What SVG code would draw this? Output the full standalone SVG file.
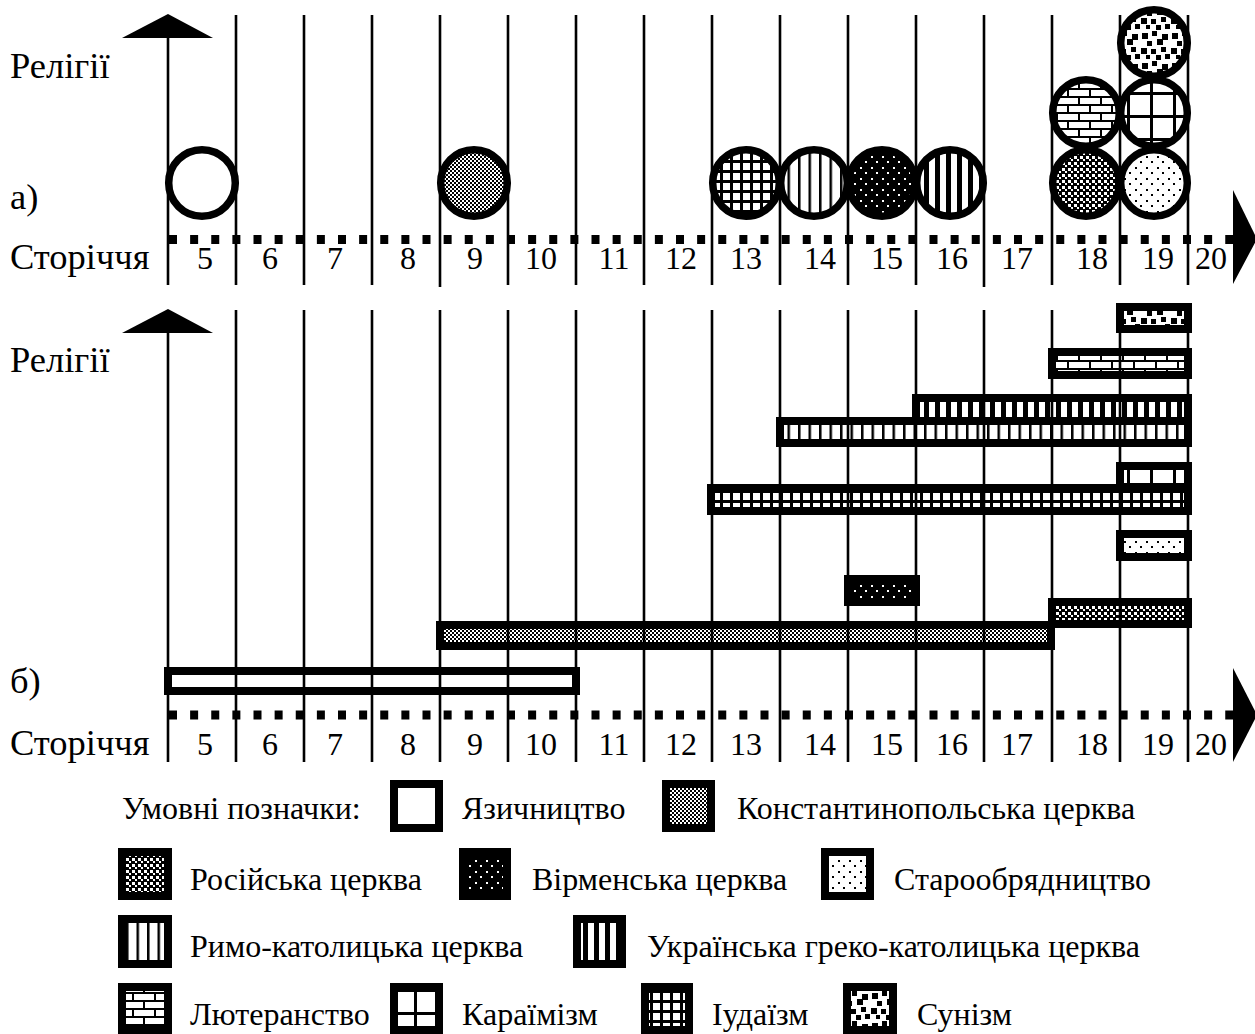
<svg xmlns="http://www.w3.org/2000/svg" width="1255" height="1034" viewBox="0 0 1255 1034" font-family="'Liberation Serif', 'Times New Roman', serif">
<style>
.grid{stroke:#000;stroke-width:2.6;fill:none}
.dots{stroke:#000;stroke-width:9;stroke-dasharray:8 13.125;fill:none}
.bar{stroke:#000;stroke-width:8}
.circ{stroke:#000;stroke-width:7.5}
.box{stroke:#000;stroke-width:8}
.lbl{font-size:36.5px}
.num{font-size:32px;text-anchor:middle}
.leg{font-size:32px}
</style>
<defs>
<pattern id="pConst" width="4" height="4" patternUnits="userSpaceOnUse"><rect width="4" height="4" fill="#fff"/><rect width="2" height="2" fill="#000"/><rect x="2" y="2" width="2" height="2" fill="#000"/></pattern>
<pattern id="pRus" width="6" height="6" patternUnits="userSpaceOnUse"><rect width="6" height="6" fill="#000"/><rect width="3" height="3" fill="#fff"/><rect x="3" y="3" width="2" height="2" fill="#fff"/></pattern>
<pattern id="pArm" width="11" height="11" patternUnits="userSpaceOnUse"><rect width="11" height="11" fill="#000"/><rect x="2" y="2" width="2" height="2" fill="#fff"/><rect x="7" y="7" width="2" height="2" fill="#fff"/></pattern>
<pattern id="pOld" width="11" height="11" patternUnits="userSpaceOnUse"><rect width="11" height="11" fill="#fff"/><rect x="2" y="2" width="2" height="2" fill="#000"/><rect x="7" y="7" width="2" height="2" fill="#000"/></pattern>
<pattern id="pRom" width="10.5" height="10" patternUnits="userSpaceOnUse"><rect width="10.5" height="10" fill="#fff"/><rect width="2.5" height="10" fill="#000"/></pattern>
<pattern id="pUgcc" width="11" height="10" patternUnits="userSpaceOnUse"><rect width="11" height="10" fill="#fff"/><rect width="5" height="10" fill="#000"/></pattern>
<pattern id="pJud" width="10" height="10" patternUnits="userSpaceOnUse"><rect width="10" height="10" fill="#fff"/><rect width="3" height="10" fill="#000"/><rect width="10" height="3" fill="#000"/></pattern>
<pattern id="pKar" width="23" height="23" patternUnits="userSpaceOnUse"><rect width="23" height="23" fill="#fff"/><rect width="3" height="23" fill="#000"/><rect width="23" height="3" fill="#000"/></pattern>
<pattern id="pLuth" width="22" height="16" patternUnits="userSpaceOnUse"><rect width="22" height="16" fill="#fff"/><rect width="22" height="2" fill="#000"/><rect y="8" width="22" height="2" fill="#000"/><rect x="0" y="0" width="2" height="8" fill="#000"/><rect x="11" y="8" width="2" height="8" fill="#000"/></pattern>
<pattern id="pSun" width="30" height="30" patternUnits="userSpaceOnUse"><rect width="30" height="30" fill="#fff"/><g fill="#000"><rect x="2" y="3" width="6" height="6"/><rect x="12" y="1" width="5" height="5"/><rect x="22" y="4" width="6" height="6"/><rect x="7" y="11" width="5" height="5"/><rect x="17" y="9" width="6" height="6"/><rect x="1" y="18" width="6" height="6"/><rect x="11" y="19" width="5" height="5"/><rect x="21" y="17" width="5" height="5"/><rect x="16" y="25" width="5" height="5"/><rect x="25" y="24" width="5" height="5"/><rect x="6" y="25" width="4" height="4"/></g></pattern>
</defs>
<rect width="1255" height="1034" fill="#fff"/>

<!-- panel a -->
<g id="grid-a" class="grid">
<line x1="168" y1="38" x2="168" y2="285"/>
<line x1="236" y1="15" x2="236" y2="285"/><line x1="304" y1="15" x2="304" y2="285"/><line x1="372" y1="15" x2="372" y2="285"/><line x1="440" y1="15" x2="440" y2="287"/><line x1="508" y1="15" x2="508" y2="285"/><line x1="576" y1="15" x2="576" y2="285"/><line x1="644" y1="15" x2="644" y2="285"/><line x1="712" y1="15" x2="712" y2="285"/><line x1="780" y1="15" x2="780" y2="285"/><line x1="848" y1="15" x2="848" y2="285"/><line x1="916" y1="15" x2="916" y2="285"/><line x1="984" y1="15" x2="984" y2="287"/><line x1="1052" y1="15" x2="1052" y2="285"/><line x1="1120" y1="15" x2="1120" y2="285"/><line x1="1188" y1="15" x2="1188" y2="285"/>
</g>
<g id="axes-a">
<polygon points="122,38 168,14 213,38" fill="#000"/>
<line class="dots" x1="169" y1="239.5" x2="1233" y2="239.5"/>
<polygon points="1233,190 1257,239 1233,284" fill="#000"/>
</g>
<g id="labels-a">
<text class="lbl" x="10" y="78">Релігії</text>
<text class="lbl" x="10" y="209">а)</text>
<text class="lbl" x="10" y="269">Сторіччя</text>
<g class="num">
<text x="205" y="269">5</text><text x="270" y="269">6</text><text x="335" y="269">7</text><text x="408" y="269">8</text><text x="475" y="269">9</text><text x="541" y="269">10</text><text x="614" y="269">11</text><text x="681" y="269">12</text><text x="746" y="269">13</text><text x="820" y="269">14</text><text x="887" y="269">15</text><text x="952" y="269">16</text><text x="1017" y="269">17</text><text x="1092" y="269">18</text><text x="1158" y="269">19</text><text x="1211" y="269">20</text>
</g>
</g>
<g id="c-pagan"><circle class="circ" cx="202" cy="183" r="33.3" fill="#fff"/></g>
<g id="c-const"><circle class="circ" cx="474" cy="183" r="33.3" fill="url(#pConst)"/></g>
<g id="c-jud"><circle class="circ" cx="746" cy="183" r="33.3" fill="url(#pJud)"/></g>
<g id="c-rom"><circle class="circ" cx="814" cy="183" r="33.3" fill="url(#pRom)"/></g>
<g id="c-arm"><circle class="circ" cx="882" cy="183" r="33.3" fill="url(#pArm)"/></g>
<g id="c-ugcc"><circle class="circ" cx="950" cy="183" r="33.3" fill="url(#pUgcc)"/></g>
<g id="c-rus"><circle class="circ" cx="1086" cy="183" r="33.3" fill="url(#pRus)"/></g>
<g id="c-luth"><circle class="circ" cx="1086" cy="113" r="33.3" fill="url(#pLuth)"/></g>
<g id="c-old"><circle class="circ" cx="1154" cy="183" r="33.3" fill="url(#pOld)"/></g>
<g id="c-kar"><circle class="circ" cx="1154" cy="113" r="33.3" fill="url(#pKar)"/></g>
<g id="c-sun"><circle class="circ" cx="1154" cy="43" r="33.3" fill="url(#pSun)"/></g>

<!-- panel b -->
<g id="b-pagan"><rect class="bar" x="168" y="671" width="408" height="20" fill="none"/></g>
<g id="b-const"><rect class="bar" x="440" y="625" width="611" height="21" fill="url(#pConst)"/></g>
<g id="b-rus"><rect class="bar" x="1052" y="602" width="136" height="22" fill="url(#pRus)"/></g>
<g id="b-arm"><rect class="bar" x="848" y="579" width="68" height="23" fill="url(#pArm)"/></g>
<g id="b-old"><rect class="bar" x="1120" y="534" width="68" height="23" fill="url(#pOld)"/></g>
<g id="b-kar"><rect class="bar" x="1120" y="466" width="68" height="22" fill="url(#pKar)"/></g>
<g id="b-jud"><rect class="bar" x="711" y="488" width="477" height="23" fill="url(#pJud)"/></g>
<g id="b-ugcc"><rect class="bar" x="916" y="398" width="272" height="23" fill="url(#pUgcc)"/></g>
<g id="b-rom"><rect class="bar" x="780" y="421" width="408" height="22" fill="url(#pRom)"/></g>
<g id="b-luth"><rect class="bar" x="1052" y="352" width="136" height="23" fill="url(#pLuth)"/></g>
<g id="b-sun"><rect class="bar" x="1120" y="307" width="68" height="22" fill="url(#pSun)"/></g>

<g id="grid-b" class="grid">
<line x1="168" y1="333" x2="168" y2="762"/>
<line x1="236" y1="310" x2="236" y2="762"/><line x1="304" y1="310" x2="304" y2="762"/><line x1="372" y1="310" x2="372" y2="762"/><line x1="440" y1="310" x2="440" y2="762"/><line x1="508" y1="310" x2="508" y2="762"/><line x1="576" y1="310" x2="576" y2="762"/><line x1="644" y1="310" x2="644" y2="762"/><line x1="712" y1="310" x2="712" y2="762"/><line x1="780" y1="310" x2="780" y2="762"/><line x1="848" y1="310" x2="848" y2="762"/><line x1="916" y1="310" x2="916" y2="762"/><line x1="984" y1="310" x2="984" y2="762"/><line x1="1052" y1="310" x2="1052" y2="762"/><line x1="1120" y1="310" x2="1120" y2="762"/><line x1="1188" y1="310" x2="1188" y2="762"/>
</g>
<g id="axes-b">
<polygon points="122,333 168,309 213,333" fill="#000"/>
<line class="dots" x1="169" y1="715" x2="1233" y2="715"/>
<polygon points="1233,668 1257,715 1233,762" fill="#000"/>
</g>
<g id="labels-b">
<text class="lbl" x="10" y="372">Релігії</text>
<text class="lbl" x="10" y="693">б)</text>
<text class="lbl" x="10" y="755">Сторіччя</text>
<g class="num">
<text x="205" y="755">5</text><text x="270" y="755">6</text><text x="335" y="755">7</text><text x="408" y="755">8</text><text x="475" y="755">9</text><text x="541" y="755">10</text><text x="614" y="755">11</text><text x="681" y="755">12</text><text x="746" y="755">13</text><text x="820" y="755">14</text><text x="887" y="755">15</text><text x="952" y="755">16</text><text x="1017" y="755">17</text><text x="1092" y="755">18</text><text x="1158" y="755">19</text><text x="1211" y="755">20</text>
</g>
</g>

<!-- legend -->
<g id="legend">
<text class="leg" x="122" y="819">Умовні позначки:</text>
<g id="l-pagan"><rect class="box" x="394" y="784" width="45" height="44" fill="#fff"/><text class="leg" x="462" y="819">Язичництво</text></g>
<g id="l-const"><rect class="box" x="666" y="784" width="45" height="44" fill="url(#pConst)"/><text class="leg" x="737" y="819">Константинопольська церква</text></g>
<g id="l-rus"><rect class="box" x="122" y="852" width="46" height="44" fill="url(#pRus)"/><text class="leg" x="190" y="890">Російська церква</text></g>
<g id="l-arm"><rect class="box" x="463" y="852" width="44" height="44" fill="url(#pArm)"/><text class="leg" x="532" y="890">Вірменська церква</text></g>
<g id="l-old"><rect class="box" x="825" y="852" width="45" height="44" fill="url(#pOld)"/><text class="leg" x="894" y="890">Старообрядництво</text></g>
<g id="l-rom"><rect class="box" x="122" y="919" width="46" height="45" fill="url(#pRom)"/><text class="leg" x="190" y="957">Римо-католицька церква</text></g>
<g id="l-ugcc"><rect class="box" x="577" y="919" width="45" height="45" fill="url(#pUgcc)"/><text class="leg" x="647" y="957">Українська греко-католицька церква</text></g>
<g id="l-luth"><rect class="box" x="122" y="987" width="46" height="43" fill="url(#pLuth)"/><text class="leg" x="190" y="1025">Лютеранство</text></g>
<g id="l-kar"><rect class="box" x="394" y="987" width="45" height="43" fill="url(#pKar)"/><text class="leg" x="462" y="1025">Караїмізм</text></g>
<g id="l-jud"><rect class="box" x="645" y="987" width="44" height="43" fill="url(#pJud)"/><text class="leg" x="712" y="1025">Іудаїзм</text></g>
<g id="l-sun"><rect class="box" x="847" y="987" width="46" height="43" fill="url(#pSun)"/><text class="leg" x="917" y="1025">Сунізм</text></g>
</g>
</svg>
